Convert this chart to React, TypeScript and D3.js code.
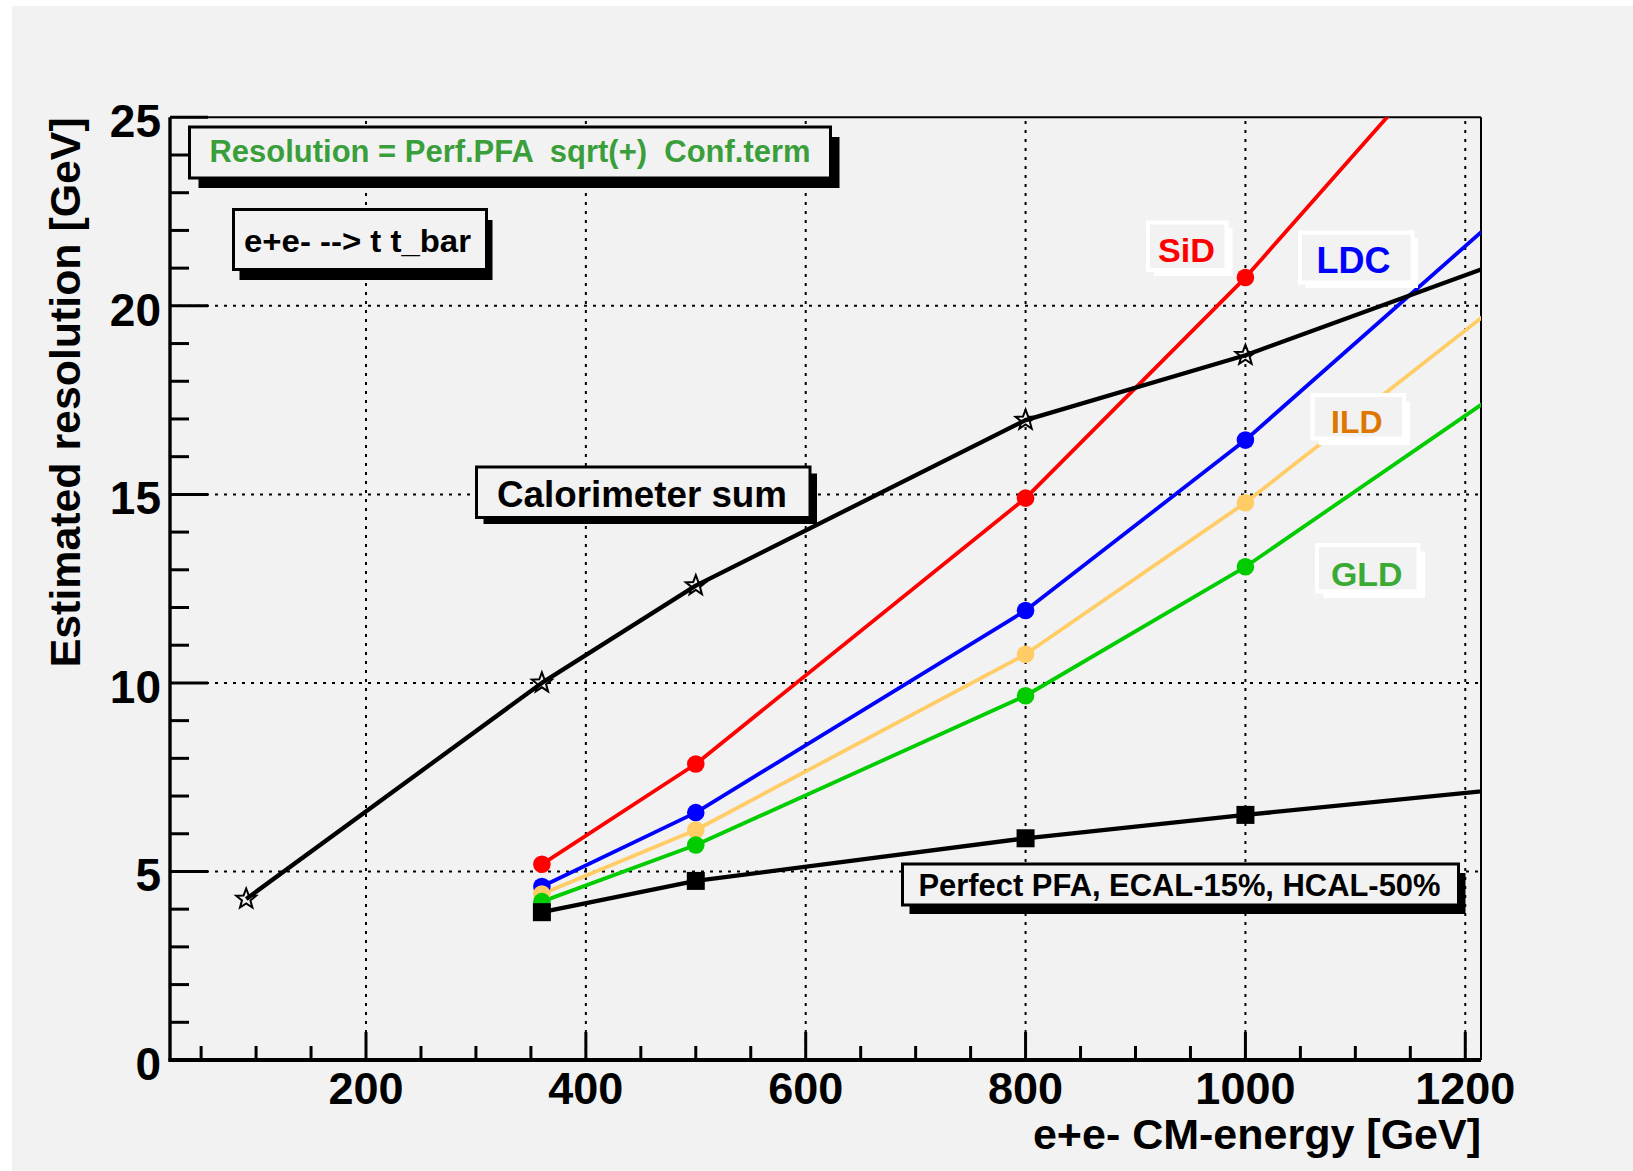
import React from 'react';
import * as d3 from 'd3';

// ---------- data ----------
const detectorEnergies = [360, 500, 800, 1000, 1500];
const sidValues = [5.19, 7.85, 14.9, 20.75, 37.25];
const ldcValues = [4.6, 6.56, 11.92, 16.44, 29.3];
const ildValues = [4.4, 6.1, 10.76, 14.78, 26.2];
const gldValues = [4.2, 5.7, 9.66, 13.08, 23.1];
const pfaValues = [3.92, 4.75, 5.88, 6.5, 7.95];
const calEnergies = [91, 360, 500, 800, 1000, 1500];
const calValues = [4.27, 10.0, 12.58, 16.97, 18.69, 24.0];

const xTickValues = [200, 400, 600, 800, 1000, 1200];
const yTickValues = [0, 5, 10, 15, 20, 25];

const FONT = '"Liberation Sans", Arial, Helvetica, sans-serif';
const BG = '#f2f2f2';

type Pt = { x: number; y: number };
const zip = (xs: number[], ys: number[]): Pt[] => xs.map((x, i) => ({ x, y: ys[i] }));

const series = [
  { name: 'SiD', color: '#ff0000', width: 3.8, marker: 'circle', pts: zip(detectorEnergies, sidValues) },
  { name: 'LDC', color: '#0000ff', width: 3.8, marker: 'circle', pts: zip(detectorEnergies, ldcValues) },
  { name: 'ILD', color: '#ffcc66', width: 3.8, marker: 'circle', pts: zip(detectorEnergies, ildValues) },
  { name: 'GLD', color: '#00cc00', width: 3.8, marker: 'circle', pts: zip(detectorEnergies, gldValues) },
  { name: 'PFA', color: '#000000', width: 4.3, marker: 'square', pts: zip(detectorEnergies, pfaValues) },
  { name: 'Cal', color: '#000000', width: 4.3, marker: 'star', pts: zip(calEnergies, calValues) },
];

// frame geometry
const FL = 170, FR = 1481, FT = 117.3, FB = 1060;
const XMIN = 21.7, XMAX = 1214.3;

function starPath(cx: number, cy: number, R: number, r: number) {
  const pts: string[] = [];
  for (let i = 0; i < 10; i++) {
    const a = -Math.PI / 2 + (i * Math.PI) / 5;
    const rad = i % 2 === 0 ? R : r;
    pts.push(`${(cx + rad * Math.cos(a)).toFixed(2)},${(cy + rad * Math.sin(a)).toFixed(2)}`);
  }
  return 'M' + pts.join('L') + 'Z';
}

function Pave(props: {
  x: number; y: number; w: number; h: number; sdx: number; sdy: number;
  border: string; shadow: string; bw: number;
  text: string; tx: number; ty: number; tlen: number; size: number; color: string;
}) {
  const p = props;
  return (
    <g>
      <rect x={p.x + p.sdx} y={p.y + p.sdy} width={p.w} height={p.h} fill={p.shadow} />
      <rect x={p.x} y={p.y} width={p.w} height={p.h} fill={BG} stroke={p.border} strokeWidth={p.bw} />
      <text x={p.tx} y={p.ty} fontFamily={FONT} fontWeight="bold" fontSize={p.size} fill={p.color}
        textLength={p.tlen} lengthAdjust="spacingAndGlyphs" style={{ whiteSpace: 'pre' }}>{p.text}</text>
    </g>
  );
}

export default function App() {
  const x = d3.scaleLinear().domain([XMIN, XMAX]).range([FL, FR]);
  const y = d3.scaleLinear().domain([0, 25]).range([FB, FT]);
  const line = d3.line<Pt>().x(d => x(d.x)).y(d => y(d.y));

  const xMinor = d3.range(50, 1201, 50).filter(v => v % 200 !== 0);
  const yMinor = d3.range(1, 25, 1).filter(v => v % 5 !== 0);
  const inRange = (p: Pt) => p.x >= XMIN && p.x <= XMAX && p.y >= 0 && p.y <= 25;

  return (
    <svg width={1633} height={1171} style={{ position: 'absolute', left: 0, top: 0 }}>
      <rect x={0} y={0} width={1633} height={1171} fill="#ffffff" />
      <rect x={12} y={6} width={1621} height={1165} fill={BG} />
      <defs>
        <clipPath id="frameClip">
          <rect x={FL} y={FT} width={FR - FL} height={FB - FT} />
        </clipPath>
      </defs>

      {/* grid */}
      <g stroke="#000" strokeWidth={2} strokeDasharray="3 6">
        {xTickValues.map(v => (
          <line key={'gx' + v} x1={x(v)} x2={x(v)} y1={FB} y2={FT} />
        ))}
        {yTickValues.filter(v => v > 0 && v < 25).map(v => (
          <line key={'gy' + v} x1={FL} x2={FR} y1={y(v)} y2={y(v)} />
        ))}
      </g>

      {/* frame top/right */}
      <line x1={FL} x2={FR} y1={FT} y2={FT} stroke="#000" strokeWidth={2} />
      <line x1={FR} x2={FR} y1={FT} y2={FB} stroke="#000" strokeWidth={2} />

      {/* series */}
      <g clipPath="url(#frameClip)">
        {series.map(s => (
          <path key={s.name} d={line(s.pts) || ''} fill="none" stroke={s.color} strokeWidth={s.width}
            strokeLinejoin="round" />
        ))}
      </g>
      <g>
        {series.map(s =>
          s.pts.filter(inRange).map((p, i) => {
            const cx = x(p.x), cy = y(p.y);
            if (s.marker === 'circle') return <circle key={s.name + i} cx={cx} cy={cy} r={8.8} fill={s.color} />;
            if (s.marker === 'square') return <rect key={s.name + i} x={cx - 9} y={cy - 9} width={18} height={18} fill={s.color} />;
            return <path key={s.name + i} d={starPath(cx, cy, 10.5, 4.4)} fill="none" stroke="#000" strokeWidth={2} />;
          })
        )}
      </g>

      {/* axes */}
      <line x1={FL} x2={FL} y1={FT} y2={FB + 1.5} stroke="#000" strokeWidth={3.4} />
      <line x1={FL - 1.5} x2={FR} y1={FB} y2={FB} stroke="#000" strokeWidth={3.8} />
      <g stroke="#000" strokeWidth={3}>
        {xTickValues.map(v => <line key={'xt' + v} x1={x(v)} x2={x(v)} y1={FB} y2={FB - 28} />)}
        {xMinor.map(v => <line key={'xm' + v} x1={x(v)} x2={x(v)} y1={FB} y2={FB - 14} />)}
        {yTickValues.map(v => <line key={'yt' + v} x1={FL} x2={FL + 38} y1={y(v)} y2={y(v)} />)}
        {yMinor.map(v => <line key={'ym' + v} x1={FL} x2={FL + 19} y1={y(v)} y2={y(v)} />)}
      </g>
      <g fontFamily={FONT} fontWeight="bold" fill="#000">
        {xTickValues.map(v => (
          <text key={'xl' + v} x={x(v)} y={1103.5} fontSize={45} textAnchor="middle">{v}</text>
        ))}
        {yTickValues.map(v => (
          <text key={'yl' + v} x={161} y={y(v) + 20} fontSize={46} textAnchor="end">{v}</text>
        ))}
        <text x={FR} y={1149} fontSize={43} textAnchor="end">e+e- CM-energy [GeV]</text>
        <text transform={`translate(80,${FT}) rotate(-90)`} fontSize={43} textAnchor="end"
          textLength={550} lengthAdjust="spacingAndGlyphs">Estimated resolution [GeV]</text>
      </g>

      {/* text boxes */}
      <Pave x={189.5} y={127} w={641} h={51} sdx={9} sdy={10} border="#000" shadow="#000" bw={3}
        text="Resolution = Perf.PFA  sqrt(+)  Conf.term" tx={209.5} ty={162} tlen={601} size={31} color="#3a9f3a" />
      <Pave x={233.5} y={209.5} w={253} h={60} sdx={6} sdy={10.5} border="#000" shadow="#000" bw={3}
        text="e+e- --> t t_bar" tx={244} ty={252} tlen={227} size={31} color="#000" />
      <Pave x={476.5} y={467} w={333.5} h={50.5} sdx={7} sdy={6.5} border="#000" shadow="#000" bw={3}
        text="Calorimeter sum" tx={497} ty={507} tlen={290} size={37} color="#000" />
      <Pave x={902.5} y={864} w={556} h={41} sdx={7} sdy={9} border="#000" shadow="#000" bw={3}
        text="Perfect PFA, ECAL-15%, HCAL-50%" tx={918.5} ty={896} tlen={522} size={31} color="#000" />

      <Pave x={1148} y={222.5} w={78.5} h={47.5} sdx={6} sdy={6} border="#fff" shadow="#fff" bw={4}
        text="SiD" tx={1158} ty={261.5} tlen={57} size={34} color="#ff0000" />
      <Pave x={1300} y={232.5} w={112.5} h={50} sdx={5.5} sdy={5.5} border="#fff" shadow="#fff" bw={4}
        text="LDC" tx={1316.5} ty={272.5} tlen={74} size={37} color="#0000ff" />
      <Pave x={1312.5} y={395} w={91.5} h={43.5} sdx={6} sdy={6.5} border="#fff" shadow="#fff" bw={4}
        text="ILD" tx={1331} ty={432.5} tlen={51.5} size={32} color="#dd7700" />
      <Pave x={1317} y={545} w={101.5} h={46.5} sdx={6.5} sdy={6.5} border="#fff" shadow="#fff" bw={4}
        text="GLD" tx={1331} ty={586} tlen={71.5} size={33} color="#3aaa35" />
    </svg>
  );
}
